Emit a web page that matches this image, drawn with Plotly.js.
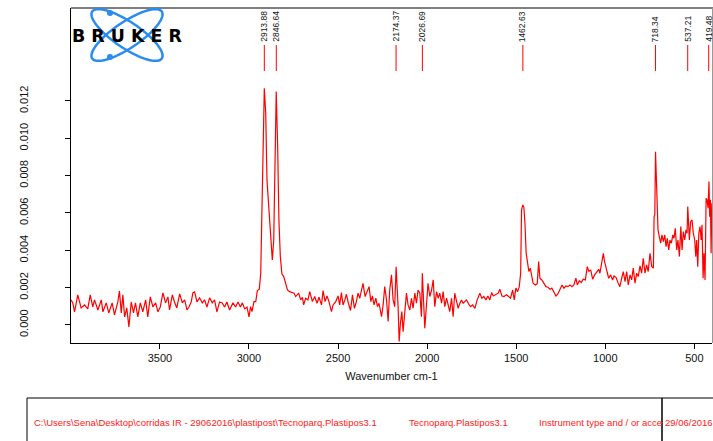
<!DOCTYPE html>
<html>
<head>
<meta charset="utf-8">
<script src="https://cdn.plot.ly/plotly-3.0.1.min.js"></script>
<style>html,body{margin:0;padding:0;background:#fff;}#chart{width:713px;height:441px;}</style>
</head>
<body>
<div id="chart"></div>
<script>
// ---- data ----
const wavenumber = [
3999,3989,3979,3961,3942,3923,3905,3891,3877,3867,3848,3829,3820,3801,3787,3768,3755,3736,3727,3717,
3708,3698,3686,3674,3661,3648,3637,3624,3610,3596,3580,3568,3554,3539,3524,3511,3498,3483,3468,3455,
3446,3430,3418,3405,3389,3374,3361,3348,3337,3324,3315,3305,3292,3277,3262,3249,3236,3221,3206,3193,
3180,3165,3150,3137,3124,3109,3090,3075,3062,3048,3037,3024,3011,3000,
2991,2983,2972,2962,2953,2942,2934,2927,2919,2914,2906,2899,2889,2880,2869,2861,2854,2847,2839,2832,
2824,2815,2805,2796,2784,2772,2759,2747,2738,2728,2721,2710,2700,2693,
2682,2669,2659,2644,2631,2618,2607,2593,2584,2573,2562,2551,2537,2528,2513,2500,2491,2481,2472,2462,
2453,2442,2430,2419,2408,2397,2388,2378,2369,2360,2348,2337,2326,2316,2307,2298,2288,2279,2270,2256,
2247,2238,2228,2219,2210,2200,2191,2182,2174,2163,2157,2150,2142,2135,2125,2116,2107,2097,2088,2079,
2069,2060,2051,2041,2032,2027,2013,2004,1995,1985,1975,1966,1957,1947,1938,1929,1919,1910,1901,1891,
1882,1873,1863,1854,1845,1835,1826,1816,1807,1798,1788,1779,1764,
1756,1745,1732,1719,1704,1693,1682,1670,1659,1648,1638,1629,1614,1601,1592,1580,1569,1554,1543,1532,
1520,1511,1502,1492,1483,1475,1470,1463,1457,1451,1444,1436,1429,1421,1414,1405,1393,1382,1374,1367,
1356,1344,1333,1322,1311,1300,1288,1277,1266,1255,1243,1232,1221,1210,1198,1187,1176,1165,1157,1146,
1135,1124,1112,1101,1092,1082,1071,1060,1048,1037,1030,1020,1011,1004,992,981,970,959,951,940,929,921,
918,908,899,889,880,871,861,852,843,833,824,815,805,796,787,777,768,759,749,739,730,726,722,718,711,
704,697,689,682,674,666,659,652,644,637,629,621,614,607,599,592,584,576,569,562,554,547,541,537,528,
521,513,506,498,492,487,481,475,468,462,457,451,446,440,434,429,423,418,414,410,406,402
];
const absorbance = [
0.00134,0.00118,0.00070,0.00161,0.00091,0.00107,0.00086,0.00161,0.00096,0.00134,0.00080,0.00134,0.00070,0.00118,0.00064,0.00118,0.00054,0.00123,0.00182,0.00064,
0.00161,0.00043,0.00091,-0.00011,0.00123,0.00064,0.00118,0.00043,0.00118,0.00070,0.00134,0.00043,0.00150,0.00096,0.00118,0.00070,0.00096,0.00171,0.00118,0.00150,
0.00080,0.00161,0.00123,0.00091,0.00166,0.00118,0.00134,0.00080,0.00096,0.00123,0.00171,0.00177,0.00123,0.00145,0.00118,0.00134,0.00096,0.00145,0.00118,0.00134,
0.00070,0.00123,0.00118,0.00096,0.00123,0.00080,0.00118,0.00096,0.00123,0.00096,0.00118,0.00086,0.00096,0.00043,
0.00098,0.00071,0.00125,0.00125,0.00184,0.00191,0.00277,0.00598,0.01045,0.01268,0.01136,0.00777,0.00634,0.00509,0.00348,0.00455,0.00866,0.01250,0.00955,0.00562,
0.00366,0.00272,0.00259,0.00232,0.00187,0.00178,0.00173,0.00170,0.00152,0.00161,0.00170,0.00134,0.00148,0.00107,
0.00143,0.00134,0.00178,0.00125,0.00152,0.00116,0.00148,0.00107,0.00184,0.00125,0.00155,0.00125,0.00071,0.00107,0.00125,0.00155,0.00107,0.00173,0.00107,0.00134,
0.00164,0.00116,0.00077,0.00161,0.00089,0.00125,0.00170,0.00143,0.00187,0.00223,0.00152,0.00178,0.00205,0.00125,0.00155,0.00107,0.00143,0.00098,0.00116,0.00044,
0.00107,0.00205,0.00134,0.00018,0.00187,0.00268,0.00134,0.00098,0.00312,0.00098,-0.00089,0.00009,0.00071,-0.00036,0.00071,0.00170,0.00107,0.00080,0.00143,0.00089,
0.00170,0.00116,0.00187,0.00170,0.00044,0.00277,-0.00018,0.00098,0.00223,0.00152,0.00187,0.00241,0.00098,0.00178,0.00143,0.00170,0.00116,0.00178,0.00098,0.00143,
0.00107,0.00071,0.00143,0.00044,0.00170,0.00125,0.00089,0.00116,0.00134,0.00116,0.00125,0.00134,0.00107,
0.00098,0.00107,0.00089,0.00134,0.00170,0.00143,0.00152,0.00134,0.00155,0.00134,0.00173,0.00155,0.00161,0.00170,0.00191,0.00155,0.00152,0.00161,0.00152,0.00143,
0.00187,0.00134,0.00197,0.00178,0.00205,0.00277,0.00616,0.00643,0.00630,0.00545,0.00384,0.00312,0.00286,0.00304,0.00259,0.00223,0.00214,0.00220,0.00339,0.00250,
0.00241,0.00223,0.00205,0.00202,0.00191,0.00197,0.00170,0.00155,0.00166,0.00187,0.00214,0.00197,0.00209,0.00205,0.00214,0.00205,0.00214,0.00250,0.00214,0.00237,
0.00227,0.00245,0.00241,0.00312,0.00286,0.00295,0.00245,0.00268,0.00286,0.00298,0.00277,0.00348,0.00384,0.00339,0.00286,0.00250,0.00268,0.00241,0.00262,0.00255,0.00227,0.00214,
0.00205,0.00250,0.00286,0.00232,0.00286,0.00214,0.00268,0.00241,0.00304,0.00223,0.00277,0.00259,0.00316,0.00277,0.00357,0.00277,0.00321,0.00286,0.00384,0.00312,0.00304,0.00580,0.00589,0.00928,0.00723,
0.00509,0.00473,0.00438,0.00482,0.00446,0.00482,0.00419,0.00464,0.00402,0.00455,0.00438,0.00482,0.00464,0.00518,0.00402,0.00455,0.00366,0.00527,0.00402,0.00500,0.00455,0.00509,0.00491,0.00634,0.00455,
0.00553,0.00562,0.00491,0.00455,0.00366,0.00455,0.00312,0.00491,0.00527,0.00455,0.00536,0.00250,0.00384,0.00241,0.00679,0.00670,0.00625,0.00768,0.00580,0.00670,0.00384,0.00652
];
const peakWavenumbers = [2913.88, 2846.64, 2174.37, 2026.69, 1462.63, 718.34, 537.21, 419.48];
const peakLabels = ['2913.88', '2846.64', '2174.37', '2026.69', '1462.63', '718.34', '537.21', '419.48'];
const xTickValues = [3500, 3000, 2500, 2000, 1500, 1000, 500];
const yTickValues = [0.000, 0.002, 0.004, 0.006, 0.008, 0.010, 0.012];
const yTickLabels = ['0.000', '0.002', '0.004', '0.006', '0.008', '0.010', '0.012'];
const xAxisTitle = 'Wavenumber cm-1';
const footerTexts = [
  'C:\\Users\\Sena\\Desktop\\corridas IR - 29062016\\plastipost\\Tecnoparq.Plastipos3.1',
  'Tecnoparq.Plastipos3.1',
  'Instrument type and / or acce',
  '29/06/2016'
];
const logoText = 'B R U K E R';

// ---- layout geometry (pixels) ----
const W = 713, H = 441;
const M = {l: 71, r: 1, t: 8, b: 98};
const PW = W - M.l - M.r, PH = H - M.t - M.b;
const px2x = p => (p - M.l) / PW;
const py2y = p => (H - M.b - p) / PH;

function ellipsePath(cx, cy, a, b, deg) {
  const t = deg * Math.PI / 180;
  let d = '';
  for (let i = 0; i <= 72; i++) {
    const s = i / 72 * 2 * Math.PI;
    const x = cx + a * Math.cos(s) * Math.cos(t) - b * Math.sin(s) * Math.sin(t);
    const y = cy + a * Math.cos(s) * Math.sin(t) + b * Math.sin(s) * Math.cos(t);
    d += (i === 0 ? 'M' : 'L') + px2x(x).toFixed(5) + ',' + py2y(y).toFixed(5);
  }
  return d + 'Z';
}

const logoBlue = '#2a8cf0';
const shapes = [];
// peak markers
peakWavenumbers.forEach(w => shapes.push({
  type: 'line', xref: 'x', yref: 'paper', x0: w, x1: w,
  y0: py2y(71), y1: py2y(45), line: {color: '#ff0000', width: 1}
}));
// frame top and right
shapes.push({type: 'line', xref: 'paper', yref: 'paper', x0: 0, x1: px2x(713), y0: 1, y1: 1, line: {color: '#000', width: 1.2}});
shapes.push({type: 'line', xref: 'paper', yref: 'paper', x0: px2x(712.5), x1: px2x(712.5), y0: 0, y1: 1, line: {color: '#999', width: 1}});
// logo orbits
shapes.push({type: 'path', xref: 'paper', yref: 'paper', path: ellipsePath(127, 35, 42, 13, 34), line: {color: logoBlue, width: 2.5}, layer: 'above'});
shapes.push({type: 'path', xref: 'paper', yref: 'paper', path: ellipsePath(127, 35, 42, 13, -34), line: {color: logoBlue, width: 2.5}, layer: 'above'});
[[110, 13], [110, 57]].forEach(([cx, cy]) => shapes.push({
  type: 'circle', xref: 'paper', yref: 'paper', x0: px2x(cx - 3), x1: px2x(cx + 3), y0: py2y(cy + 3), y1: py2y(cy - 3),
  fillcolor: logoBlue, line: {width: 0}, layer: 'above'
}));
// footer box
shapes.push({type: 'line', xref: 'paper', yref: 'paper', x0: px2x(27), x1: px2x(713), y0: py2y(398), y1: py2y(398), line: {color: '#000', width: 1}});
shapes.push({type: 'line', xref: 'paper', yref: 'paper', x0: px2x(27), x1: px2x(27), y0: py2y(398), y1: py2y(441), line: {color: '#000', width: 1}});
shapes.push({type: 'line', xref: 'paper', yref: 'paper', x0: px2x(662), x1: px2x(662), y0: py2y(398), y1: py2y(441), line: {color: '#000', width: 1.5}});

const annotations = [];
peakWavenumbers.forEach((w, i) => annotations.push({
  x: w, xref: 'x', y: py2y(43), yref: 'paper', text: peakLabels[i], textangle: -90,
  showarrow: false, xanchor: 'center', yanchor: 'bottom', borderpad: 0,
  font: {family: 'Liberation Sans, Arial, sans-serif', size: 8.5, color: '#111'}
}));
annotations.push({
  x: px2x(126.5), y: py2y(35.5), xref: 'paper', yref: 'paper', text: '<b>' + logoText + '</b>',
  showarrow: false, xanchor: 'center', yanchor: 'middle', borderpad: 0,
  font: {family: 'DejaVu Sans, sans-serif', size: 17.4, color: '#000'}
});
const footerX = [33, 408, 538, 664];
footerTexts.forEach((t, i) => annotations.push({
  x: px2x(footerX[i]), y: py2y(422), xref: 'paper', yref: 'paper', text: t,
  showarrow: false, xanchor: 'left', yanchor: 'middle', borderpad: 0,
  font: {family: 'Liberation Sans, Arial, sans-serif', size: 9.5, color: '#ff2020'}
}));

const trace = {
  x: wavenumber, y: absorbance, type: 'scatter', mode: 'lines',
  line: {color: '#ff0000', width: 1.2}, hoverinfo: 'skip'
};

const layout = {
  width: W, height: H,
  margin: M,
  paper_bgcolor: '#fff', plot_bgcolor: '#fff',
  showlegend: false,
  font: {family: 'Liberation Sans, Arial, sans-serif', color: '#111'},
  xaxis: {
    range: [3999, 401], autorange: false,
    tickmode: 'array', tickvals: xTickValues, ticktext: xTickValues.map(String),
    ticks: 'outside', ticklen: 5, tickcolor: '#000', tickwidth: 1,
    showline: true, linecolor: '#000', linewidth: 1.2, showgrid: false, zeroline: false,
    tickfont: {size: 11, color: '#111'},
    title: {text: xAxisTitle, font: {size: 11, color: '#111'}, standoff: 8}
  },
  yaxis: {
    range: [-0.00097, 0.01698], autorange: false,
    tickmode: 'array', tickvals: yTickValues, ticktext: yTickLabels,
    ticks: 'outside', ticklen: 5, tickcolor: '#000', tickwidth: 1,
    showline: true, linecolor: '#000', linewidth: 1.2, showgrid: false, zeroline: false,
    tickangle: -90, ticklabelstandoff: 32,
    tickfont: {size: 11, color: '#111'}
  },
  shapes: shapes,
  annotations: annotations
};

Plotly.newPlot('chart', [trace], layout, {displayModeBar: false, staticPlot: true});
</script>
</body>
</html>
